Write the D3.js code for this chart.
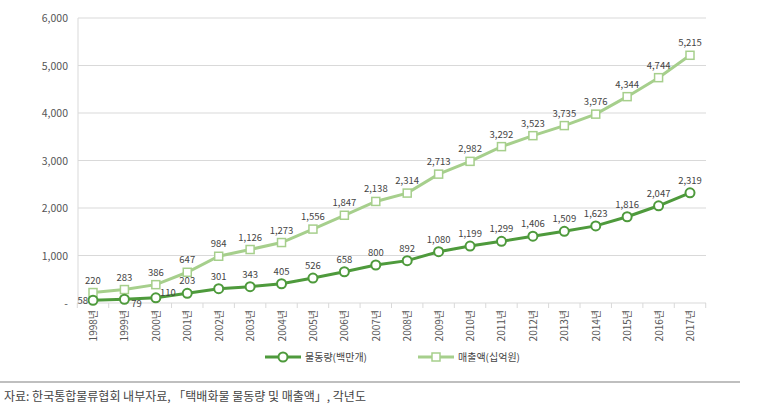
<!DOCTYPE html>
<html><head><meta charset="utf-8">
<script src="https://cdn.jsdelivr.net/npm/d3@7"></script>
<style>body{margin:0;background:#fff;font-family:"Noto Sans CJK KR","Noto Sans",sans-serif;}</style>
</head><body><div id="chart"></div>
<script>
// data
const years = ["1998년","1999년","2000년","2001년","2002년","2003년","2004년","2005년","2006년","2007년","2008년","2009년","2010년","2011년","2012년","2013년","2014년","2015년","2016년","2017년"];
const volume = [58,79,110,203,301,343,405,526,658,800,892,1080,1199,1299,1406,1509,1623,1816,2047,2319];
const sales = [220,283,386,647,984,1126,1273,1556,1847,2138,2314,2713,2982,3292,3523,3735,3976,4344,4744,5215];
const yTicks = [0,1000,2000,3000,4000,5000,6000];

const W = 760, H = 409;
const svg = d3.select("#chart").append("svg").attr("width", W).attr("height", H);

const x = d3.scalePoint().domain(years).range([93, 690]);
const y = d3.scaleLinear().domain([0, 6000]).range([303, 18]);

// grid
svg.selectAll(".grid").data(yTicks).enter().append("line")
    .attr("x1", 78).attr("x2", 706)
    .attr("y1", d => y(d)).attr("y2", d => y(d))
    .attr("stroke", "#d9d9d9");
svg.append("line").attr("x1", 78).attr("x2", 78).attr("y1", 18).attr("y2", 303).attr("stroke", "#d9d9d9");

svg.selectAll(".yl").data(yTicks).enter().append("text")
    .attr("x", 68).attr("y", d => y(d) + 4).attr("text-anchor", "end")
    .attr("font-size", 10.5).attr("fill", "#555")
    .text(d => d === 0 ? "-" : d3.format(",")(d));

// x ticks
const step = x.step();
svg.selectAll(".xt").data(d3.range(years.length + 1)).enter().append("line")
    .attr("x1", i => 93 - step / 2 + i * step).attr("x2", i => 93 - step / 2 + i * step)
    .attr("y1", 303).attr("y2", 308).attr("stroke", "#d9d9d9");
svg.selectAll(".xl").data(years).enter().append("text")
    .attr("transform", d => `translate(${x(d) + 4},310) rotate(-90)`)
    .attr("text-anchor", "end").attr("font-size", 10).attr("fill", "#555")
    .text(d => d);

const dark = "#4e9a3c", light = "#a6cf8c";
const line = d3.line().x((d, i) => x(years[i])).y(d => y(d));

svg.append("path").datum(sales).attr("d", line).attr("fill", "none").attr("stroke", light).attr("stroke-width", 3);
svg.append("path").datum(volume).attr("d", line).attr("fill", "none").attr("stroke", dark).attr("stroke-width", 3);

svg.selectAll(".sq").data(sales).enter().append("rect")
    .attr("x", (d, i) => x(years[i]) - 4).attr("y", d => y(d) - 4)
    .attr("width", 8).attr("height", 8).attr("fill", "#fff").attr("stroke", light).attr("stroke-width", 1.5);
svg.selectAll(".ci").data(volume).enter().append("circle")
    .attr("cx", (d, i) => x(years[i])).attr("cy", d => y(d)).attr("r", 4.5)
    .attr("fill", "#fff").attr("stroke", dark).attr("stroke-width", 2);

svg.selectAll(".sl").data(sales).enter().append("text")
    .attr("x", (d, i) => x(years[i])).attr("y", d => y(d) - 9)
    .attr("text-anchor", "middle").attr("font-size", 9.5).attr("fill", "#444")
    .text(d => d3.format(",")(d));
// first three volume labels sit beside the markers
const vdx = [-5, 12, 12], vdy = [4, 8, -2];
svg.selectAll(".vl").data(volume).enter().append("text")
    .attr("x", (d, i) => x(years[i]) + (i < 3 ? vdx[i] : 0))
    .attr("y", (d, i) => y(d) + (i < 3 ? vdy[i] : -9))
    .attr("text-anchor", (d, i) => i === 0 ? "end" : "middle").attr("font-size", 9.5).attr("fill", "#444")
    .text(d => d3.format(",")(d));

// legend
const lg = [{t: "물동량(백만개)", c: dark, sq: false, x: 265}, {t: "매출액(십억원)", c: light, sq: true, x: 418}];
lg.forEach(l => {
    svg.append("line").attr("x1", l.x).attr("x2", l.x + 36).attr("y1", 357).attr("y2", 357).attr("stroke", l.c).attr("stroke-width", 3);
    if (l.sq) svg.append("rect").attr("x", l.x + 14).attr("y", 353).attr("width", 8).attr("height", 8).attr("fill", "#fff").attr("stroke", l.c).attr("stroke-width", 1.5);
    else svg.append("circle").attr("cx", l.x + 18).attr("cy", 357).attr("r", 4.5).attr("fill", "#fff").attr("stroke", l.c).attr("stroke-width", 2);
    svg.append("text").attr("x", l.x + 40).attr("y", 361).attr("font-size", 10).attr("fill", "#444").text(l.t);
});

svg.append("line").attr("x1", 0).attr("x2", 740).attr("y1", 382).attr("y2", 382).attr("stroke", "#aaa").attr("stroke-width", 1.5);
svg.append("text").attr("x", 4).attr("y", 401).attr("font-size", 12).attr("fill", "#444")
    .text("자료: 한국통합물류협회 내부자료, 「택배화물 물동량 및 매출액」, 각년도");
</script></body></html>
